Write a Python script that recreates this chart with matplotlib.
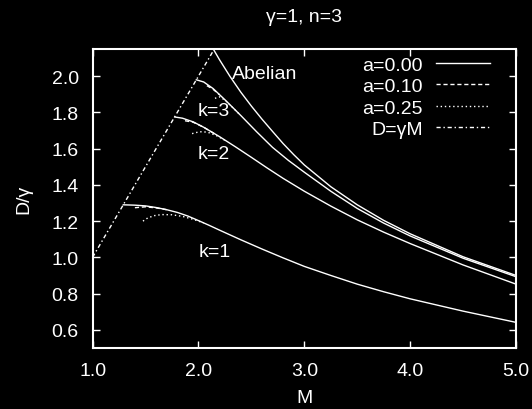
import matplotlib
matplotlib.use("Agg")
import matplotlib.pyplot as plt

plt.rcParams['font.family'] = ['Liberation Sans', 'DejaVu Sans']

# diagonal D = gamma*M
line_m = [1.0, 2.145]
line_d = [1.0, 2.145]

# a = 0.00 curves
ab_m = [2.145, 2.2, 2.3, 2.4, 2.5, 2.6, 2.7, 2.8, 2.9, 3.0, 3.25, 3.5, 3.75, 4.0, 4.5, 5.0]
ab_d = [2.145, 2.09, 1.997, 1.912, 1.835, 1.763, 1.695, 1.628, 1.567, 1.51, 1.39, 1.29, 1.204, 1.13,
        1.003, 0.90]

k3_m = [1.98, 2.05, 2.138, 2.25, 2.4, 2.55, 2.7, 2.85, 3.0, 3.25, 3.5, 3.75, 4.0, 4.5, 5.0]
k3_d = [1.98, 1.968, 1.932, 1.87, 1.783, 1.693, 1.607, 1.535, 1.47, 1.365, 1.27, 1.189, 1.118, 0.995, 0.893]

k2_m = [1.775, 1.85, 1.95, 2.05, 2.2, 2.35, 2.5, 2.65, 2.8, 3.0, 3.25, 3.5, 3.75, 4.0, 4.5, 5.0]
k2_d = [1.775, 1.768, 1.748, 1.718, 1.666, 1.61, 1.552, 1.493, 1.436, 1.365, 1.283, 1.207, 1.139, 1.076,
        0.958, 0.852]

k1_m = [1.29, 1.4, 1.5, 1.6, 1.7, 1.8, 1.9, 2.0, 2.1, 2.2, 2.4, 2.6, 2.8, 3.0, 3.25, 3.5, 3.75, 4.0, 4.5, 5.0]
k1_d = [1.29, 1.288, 1.284, 1.275, 1.263, 1.248, 1.228, 1.203, 1.177, 1.15, 1.097, 1.046, 0.997, 0.95,
        0.90, 0.852, 0.81, 0.771, 0.703, 0.641]

# a = 0.10 curves (start segments, they merge with a=0 afterwards)
k3_a10_m = [2.08, 2.138, 2.2]
k3_a10_d = [1.948, 1.928, 1.897]
k2_a10_m = [1.873, 1.95, 2.05, 2.15]
k2_a10_d = [1.754, 1.746, 1.718, 1.683]
k1_a10_m = [1.40, 1.5, 1.6, 1.7]
k1_a10_d = [1.274, 1.279, 1.273, 1.263]

# a = 0.25 curves
k3_a25_m = [2.156, 2.2, 2.25, 2.3, 2.4]
k3_a25_d = [1.878, 1.886, 1.868, 1.84, 1.783]
k2_a25_m = [1.94, 2.0, 2.043, 2.1, 2.17, 2.27]
k2_a25_d = [1.683, 1.692, 1.694, 1.688, 1.672, 1.64]
k1_a25_m = [1.476, 1.52, 1.58, 1.653, 1.75, 1.85, 1.95, 2.05]
k1_a25_d = [1.20, 1.217, 1.23, 1.236, 1.235, 1.226, 1.21, 1.19]

fg = 'white'
fig = plt.figure(figsize=(5.32, 4.10), dpi=100, facecolor='black')
ax = fig.add_axes([0.174, 0.149, 0.796, 0.729], facecolor='black')

lw = 1.0
solid = [(ab_m, ab_d), (k3_m, k3_d), (k2_m, k2_d), (k1_m, k1_d)]
dashed = [(k3_a10_m, k3_a10_d), (k2_a10_m, k2_a10_d), (k1_a10_m, k1_a10_d)]
dotted = [(k3_a25_m, k3_a25_d), (k2_a25_m, k2_a25_d), (k1_a25_m, k1_a25_d)]

for i, (m, d) in enumerate(solid):
    ax.plot(m, d, color=fg, lw=lw, label='a=0.00' if i == 0 else None)
for i, (m, d) in enumerate(dashed):
    ax.plot(m, d, color=fg, lw=lw, ls=(0, (3, 2)), label='a=0.10' if i == 0 else None)
for i, (m, d) in enumerate(dotted):
    ax.plot(m, d, color=fg, lw=lw, ls=(0, (1, 2)), label='a=0.25' if i == 0 else None)
ax.plot(line_m, line_d, color=fg, lw=lw, ls=(0, (3, 2, 1, 2)), label='D=γM')

fs = 14
ax.text(2.317, 2.015, 'Abelian', color=fg, fontsize=fs, va='center')
ax.text(1.996, 1.81, 'k=3', color=fg, fontsize=fs, va='center')
ax.text(1.996, 1.573, 'k=2', color=fg, fontsize=fs, va='center')
ax.text(2.005, 1.031, 'k=1', color=fg, fontsize=fs, va='center')

ax.set_xlim(1, 5)
ax.set_ylim(0.5, 2.15)
ax.set_xticks([1, 2, 3, 4, 5])
ax.set_xticklabels(['1.0', '2.0', '3.0', '4.0', '5.0'])
ax.set_yticks([0.6, 0.8, 1.0, 1.2, 1.4, 1.6, 1.8, 2.0])
ax.set_yticklabels(['0.6', '0.8', '1.0', '1.2', '1.4', '1.6', '1.8', '2.0'])
ax.tick_params(direction='in', length=5, width=1, colors=fg, labelsize=fs,
               top=True, right=True)
ax.tick_params(axis='x', pad=10)
ax.tick_params(axis='y', pad=10)
for s in ax.spines.values():
    s.set_color(fg)
    s.set_linewidth(1.5)

ax.set_xlabel('M', color=fg, fontsize=fs, labelpad=7)
ax.set_ylabel('D/γ', color=fg, fontsize=fs, labelpad=14)
ax.set_title('γ=1, n=3', color=fg, fontsize=fs, pad=20)

leg = ax.legend(loc='upper right', bbox_to_anchor=(0.939, 0.977), frameon=False,
                markerfirst=False, fontsize=fs, handlelength=2.8,
                handletextpad=0.65, labelspacing=0.2, borderpad=0, borderaxespad=0)
for t in leg.get_texts():
    t.set_color(fg)

fig.savefig('out.png', dpi=100, facecolor='black')
